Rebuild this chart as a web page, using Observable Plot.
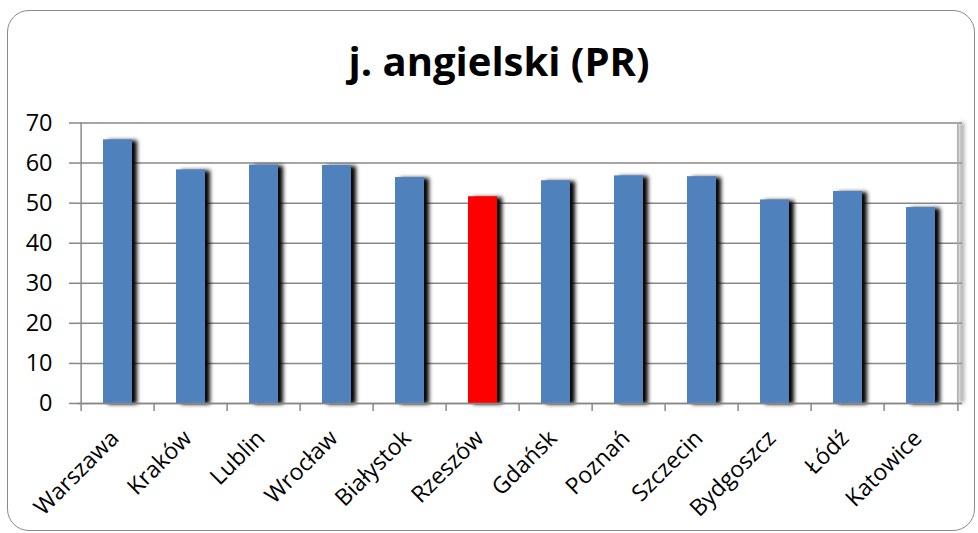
<!DOCTYPE html>
<html>
<head>
<meta charset="utf-8">
<script src="https://cdn.jsdelivr.net/npm/d3@7"></script>
<script src="https://cdn.jsdelivr.net/npm/@observablehq/plot@0.6"></script>
<style>
  body { margin: 0; background: #fff; font-family: "Open Sans", sans-serif; }
  #wrap { position: relative; width: 978px; height: 533px; overflow: hidden; background: #fff; }
  #frame { position: absolute; left: 7px; top: 10px; width: 968px; height: 521px; box-sizing: border-box;
           border: 1.5px solid #8a8a8a; border-radius: 22px; }
  #title { position: absolute; left: 10px; width: 978px; top: 33px; text-align: center;
           font-family: "Open Sans", sans-serif; font-weight: bold; font-size: 40px; line-height: 56px; color: #000; }
  #chart { position: absolute; left: 0; top: 0; }
</style>
</head>
<body>
<div id="wrap">
  <div id="frame"></div>
  <div id="title">j. angielski (PR)</div>
  <div id="chart"></div>
</div>
<script>
const categories = ["Warszawa", "Kraków", "Lublin", "Wrocław", "Białystok", "Rzeszów", "Gdańsk", "Poznań", "Szczecin", "Bydgoszcz", "Łódź", "Katowice"];
const values = [65.8, 58.3, 59.5, 59.4, 56.4, 51.6, 55.6, 56.8, 56.6, 50.8, 52.9, 48.9];
const highlighted = "Rzeszów";
const yTicks = [0, 10, 20, 30, 40, 50, 60, 70];

const data = categories.map((c, i) => ({city: c, value: values[i]}));

const W = 978, H = 533;
const mL = 77, mR = 16, mT = 122.5, mB = 130;
const step = (W - mL - mR) / categories.length;
const last = categories[categories.length - 1];
const first = categories[0];

const chart = Plot.plot({
  width: W,
  height: H,
  marginLeft: mL,
  marginRight: mR,
  marginTop: mT,
  marginBottom: mB,
  style: {fontFamily: "'Open Sans', sans-serif", color: "#000", background: "transparent", overflow: "visible"},
  x: {domain: categories, paddingInner: 0.6, paddingOuter: 0.3, label: null},
  y: {domain: [0, 70], label: null},
  marks: [
    Plot.gridY(yTicks, {stroke: "#888", strokeOpacity: 1, strokeWidth: 1.5}),
    // edge shadow (first rule group)
    Plot.ruleX([last], {dx: step / 2 + 4, y1: 0, y2: 70, stroke: "#999", strokeWidth: 4}),
    Plot.ruleX([last], {dx: step / 2, y1: 0, y2: 70, stroke: "#aaa", strokeWidth: 1.5}),
    // bar shadow (first bar group)
    Plot.barY(data, {x: "city", y: "value", fill: "#000", dx: 5, dy: 1}),
    Plot.barY(data, {x: "city", y: "value", fill: d => d.city === highlighted ? "#FF0000" : "#4F81BD"}),
    Plot.ruleX([first], {dx: -step / 2, y1: 0, y2: 70, stroke: "#888", strokeWidth: 1.5}),
    Plot.ruleY([0], {stroke: "#888", strokeWidth: 1.5}),
    Plot.axisY({ticks: yTicks, tickSize: 8, tickPadding: 17, fontSize: 23.5, stroke: "#888", strokeWidth: 1.5, tickFormat: d => d}),
    Plot.axisX({ticks: categories, tickSize: 8, dx: -step / 2, tickFormat: () => "", stroke: "#888", strokeWidth: 1.5}),
    Plot.axisX({ticks: [last], tickSize: 8, dx: step / 2, tickFormat: () => "", stroke: "#888", strokeWidth: 1.5}),
    Plot.axisX({ticks: categories, tickSize: 0, tickPadding: 31, tickRotate: -45, fontSize: 23, dx: -3})
  ]
});

// soft shadows via an SVG blur filter
const svg = d3.select(chart);
const defs = svg.insert("defs", ":first-child");
defs.append("filter").attr("id", "softShadow")
  .attr("filterUnits", "userSpaceOnUse")
  .attr("x", 0).attr("y", 0).attr("width", W).attr("height", H)
  .append("feGaussianBlur").attr("stdDeviation", 2);
const barGroups = chart.querySelectorAll('g[aria-label="bar"]');
if (barGroups.length) barGroups[0].setAttribute("filter", "url(#softShadow)");
const ruleGroups = chart.querySelectorAll('g[aria-label="rule"]');
if (ruleGroups.length) ruleGroups[0].setAttribute("filter", "url(#softShadow)");

document.getElementById("chart").appendChild(chart);
</script>
</body>
</html>
